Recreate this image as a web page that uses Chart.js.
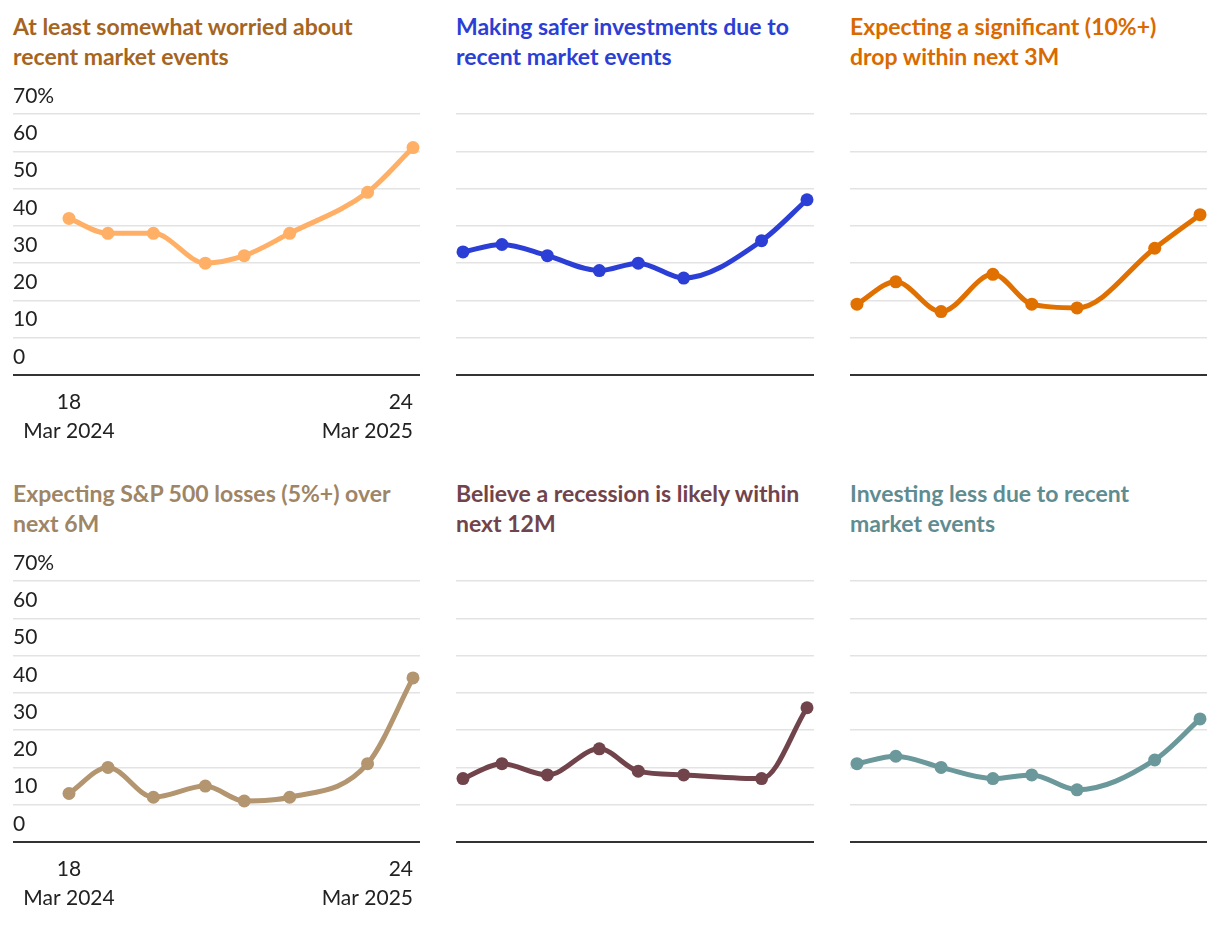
<!DOCTYPE html>
<html>
<head>
<meta charset="utf-8">
<script src="https://cdn.jsdelivr.net/npm/chart.js@4"></script>
<style>
    body { margin: 0; background: #fff; width: 1220px; height: 926px; position: relative; overflow: hidden; font-family: Lato, sans-serif; }
    .title { position: absolute; font-weight: bold; font-size: 23px; line-height: 30px; white-space: pre; }
    .panel { position: absolute; }
</style>
</head>
<body>
<script>
// survey dates (x) and the six series (percent)
const surveyDates = ["2024-03-18", "2024-04-29", "2024-06-17", "2024-08-12", "2024-09-23", "2024-11-11", "2025-02-03", "2025-03-24"];
const xTickTop = ["18", "24"];
const xTickBottom = ["Mar 2024", "Mar 2025"];

const worried = [42, 38, 38, 30, 32, 38, 49, 61];
const saferInvestments = [33, 35, 32, 28, 30, 26, 36, 47];
const expectDrop = [19, 25, 17, 27, 19, 18, 34, 43];
const spLosses = [13, 20, 12, 15, 11, 12, 21, 44];
const recession = [17, 21, 18, 25, 19, 18, 17, 36];
const investingLess = [21, 23, 20, 17, 18, 14, 22, 33];

const titles = [
    "At least somewhat worried about\nrecent market events",
    "Making safer investments due to\nrecent market events",
    "Expecting a significant (10%+)\ndrop within next 3M",
    "Expecting S&P 500 losses (5%+) over\nnext 6M",
    "Believe a recession is likely within\nnext 12M",
    "Investing less due to recent\nmarket events"
];
const seriesList = [worried, saferInvestments, expectDrop, spLosses, recession, investingLess];
const lineColors = ["#ffb066", "#2b3ed6", "#e07000", "#b39570", "#71444c", "#6a989b"];
const titleColors = ["#a6651f", "#2b3ed6", "#d96a00", "#9e8566", "#71444c", "#5f8c90"];

// days since first survey
const dayOffsets = surveyDates.map(d => (Date.parse(d) - Date.parse(surveyDates[0])) / 86400000);
const lastDay = dayOffsets[dayOffsets.length - 1];

const colLeft = [13, 456, 850];
const colWidth = [407, 358, 357];
const rowTop = [0, 467];

// draws the two x labels under the first column panels
const xLabelPlugin = {
    id: "xLabels",
    afterDraw(chart) {
        if (!chart.options.plugins.xLabels.show) return;
        const ctx = chart.ctx;
        const xs = chart.scales.x;
        const base = chart.chartArea.bottom;
        ctx.save();
        ctx.fillStyle = "#222";
        ctx.font = "21px Lato";
        ctx.textBaseline = "middle";
        [0, lastDay].forEach((v, i) => {
            ctx.textAlign = i === 0 ? "center" : "right";
            const px = xs.getPixelForValue(v);
            ctx.fillText(xTickTop[i], px, base + 27);
            ctx.fillText(xTickBottom[i], px, base + 56);
        });
        ctx.restore();
    }
};

seriesList.forEach((values, i) => {
    const col = i % 3;
    const row = Math.floor(i / 3);
    const firstCol = col === 0;

    const title = document.createElement("div");
    title.className = "title";
    title.style.left = (colLeft[col]) + "px";
    title.style.top = (rowTop[row] + 11) + "px";
    title.style.color = titleColors[i];
    title.textContent = titles[i];
    document.body.appendChild(title);

    const box = document.createElement("div");
    box.className = "panel";
    box.style.left = colLeft[col] + "px";
    box.style.top = (rowTop[row] + 80) + "px";
    box.style.width = colWidth[col] + "px";
    box.style.height = "370px";
    const canvas = document.createElement("canvas");
    box.appendChild(canvas);
    document.body.appendChild(box);

    const pxPerDay = 344 / lastDay;
    const leftPad = firstCol ? 56 : 7;

    new Chart(canvas.getContext("2d"), {
        type: "line",
        data: {
            datasets: [{
                data: dayOffsets.map((d, k) => ({ x: d, y: values[k] })),
                borderColor: lineColors[i],
                backgroundColor: lineColors[i],
                borderWidth: 5,
                pointRadius: 6.5,
                pointBorderWidth: 0,
                cubicInterpolationMode: "monotone",
                clip: false
            }]
        },
        plugins: [xLabelPlugin],
        options: {
            responsive: true,
            maintainAspectRatio: false,
            animation: false,
            layout: { autoPadding: false, padding: { top: 34, bottom: 75, left: 0, right: 0 } },
            plugins: {
                legend: { display: false },
                tooltip: { enabled: false },
                xLabels: { show: firstCol }
            },
            scales: {
                x: {
                    type: "linear",
                    min: -leftPad / pxPerDay,
                    max: lastDay + 7 / pxPerDay,
                    grid: { display: false, drawTicks: false },
                    border: { display: false },
                    ticks: { display: false }
                },
                y: {
                    min: 0,
                    max: 70,
                    ticks: {
                        stepSize: 10,
                        display: firstCol,
                        mirror: true,
                        padding: 0,
                        labelOffset: -18,
                        color: "#222",
                        font: { family: "Lato", size: 21 },
                        callback: v => v === 70 ? "70%" : v
                    },
                    grid: {
                        drawTicks: false,
                        color: c => c.tick.value === 0 ? "#333" : "#e3e3e3",
                        lineWidth: c => c.tick.value === 0 ? 2 : 1.5
                    },
                    border: { display: false }
                }
            }
        }
    });
});
</script>
</body>
</html>
